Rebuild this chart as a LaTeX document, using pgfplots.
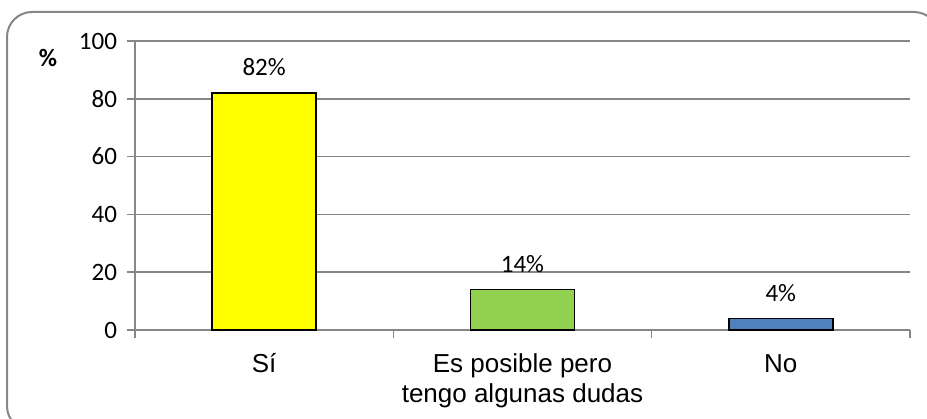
\documentclass[border=0pt]{standalone}
\usepackage{pgfplots}
\pgfplotsset{compat=1.18}
\usepackage{fontspec}
\setmainfont{Liberation Sans}
\newfontfamily\calibri{Carlito}
\definecolor{axgray}{HTML}{868686}
\definecolor{barYellow}{HTML}{FFFF00}
\definecolor{barGreen}{HTML}{92D050}
\definecolor{barBlue}{HTML}{4F81BD}
\newcommand\tl{\rule{0pt}{11pt}}
\begin{document}
\begin{tikzpicture}
\path[use as bounding box] (0,0) rectangle (463.5pt,209pt);
\begin{scope}
  \clip (0,0) rectangle (463.5pt,209pt);
  \draw[axgray, line width=1pt, rounded corners=12.5pt]
    (3.5pt,-6.5pt) rectangle (469.5pt,203pt);
\end{scope}
\node[font=\calibri\fontsize{12.5}{15}\selectfont\bfseries] at (24pt,180pt) {\%};
\begin{axis}[
    at={(67.5pt,44pt)}, anchor=south west,
    width=387.5pt, height=144.5pt, scale only axis,
    xmin=-0.5, xmax=2.5, ymin=0, ymax=100,
    axis x line*=bottom, axis y line*=left,
    axis line style={axgray, line width=0.75pt},
    ytick={0,20,...,100},
    ymajorgrids, major grid style={axgray, line width=0.75pt},
    xtick={-0.5,0.5,1.5,2.5}, xticklabels={},
    extra x ticks={0,1,2},
    extra x tick labels={\tl Sí,{\tl Es posible pero\\tengo algunas dudas},\tl No},
    extra x tick style={major tick length=0pt},
    tick align=outside, major tick length=4pt,
    tick style={axgray, line width=0.75pt},
    xticklabel style={align=center, font=\fontsize{13}{15}\selectfont, yshift=-6.5pt},
    yticklabel style={font=\calibri\fontsize{12.5}{15}\selectfont, xshift=-1.5pt},
    /pgf/number format/assume math mode=true,
    bar width=52pt,
    nodes near coords, point meta=explicit symbolic,
    every node near coord/.append style={font=\calibri\fontsize{12.5}{15}\selectfont, yshift=4.7pt},
]
\addplot[ybar, fill=barYellow, draw=black, line width=0.75pt] coordinates {(0,82) [82\%]};
\addplot[ybar, fill=barGreen, draw=black, line width=0.75pt] coordinates {(1,14) [14\%]};
\addplot[ybar, fill=barBlue, draw=black, line width=0.75pt] coordinates {(2,4) [4\%]};
\end{axis}
\end{tikzpicture}
\end{document}
